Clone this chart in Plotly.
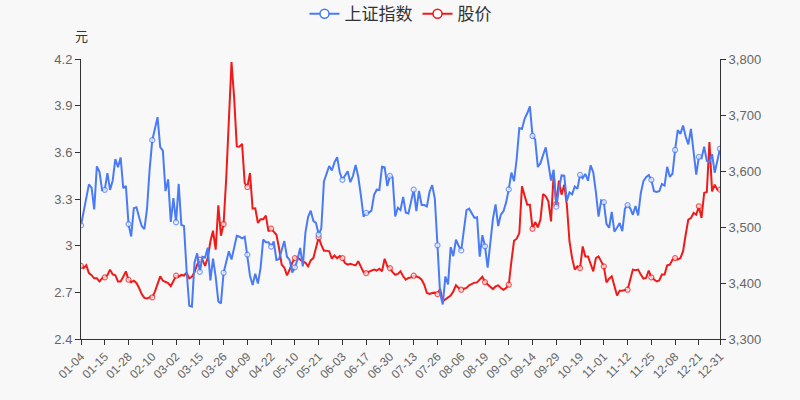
import plotly.graph_objects as go

# Trading days of 2021 (by month -> day numbers)
trade_days = {
    1: [4, 5, 6, 7, 8, 11, 12, 13, 14, 15, 18, 19, 20, 21, 22, 25, 26, 27, 28, 29],
    2: [1, 2, 3, 4, 5, 8, 9, 10, 18, 19, 22, 23, 24, 25, 26],
    3: [1, 2, 3, 4, 5, 8, 9, 10, 11, 12, 15, 16, 17, 18, 19, 22, 23, 24, 25, 26, 29, 30, 31],
    4: [1, 2, 6, 7, 8, 9, 12, 13, 14, 15, 16, 19, 20, 21, 22, 23, 26, 27, 28, 29, 30],
    5: [6, 7, 10, 11, 12, 13, 14, 17, 18, 19, 20, 21, 24, 25, 26, 27, 28, 31],
    6: [1, 2, 3, 4, 7, 8, 9, 10, 11, 15, 16, 17, 18, 21, 22, 23, 24, 25, 28, 29, 30],
    7: [1, 2, 5, 6, 7, 8, 9, 12, 13, 14, 15, 16, 19, 20, 21, 22, 23, 26, 27, 28, 29, 30],
    8: [2, 3, 4, 5, 6, 9, 10, 11, 12, 13, 16, 17, 18, 19, 20, 23, 24, 25, 26, 27, 30, 31],
    9: [1, 2, 3, 6, 7, 8, 9, 10, 13, 14, 15, 16, 17, 22, 23, 24, 27, 28, 29, 30],
    10: [8, 11, 12, 13, 14, 15, 18, 19, 20, 21, 22, 25, 26, 27, 28, 29],
    11: [1, 2, 3, 4, 5, 8, 9, 10, 11, 12, 15, 16, 17, 18, 19, 22, 23, 24, 25, 26, 29, 30],
    12: [1, 2, 3, 6, 7, 8, 9, 10, 13, 14, 15, 16, 17, 20, 21, 22, 23, 24, 27, 28, 29, 30, 31],
}
dates = [f"{m:02d}-{d:02d}" for m in sorted(trade_days) for d in trade_days[m]]

tick_labels = ["01-04", "01-15", "01-28", "02-10", "03-02", "03-15", "03-26", "04-09",
               "04-22", "05-10", "05-21", "06-03", "06-17", "06-30", "07-13", "07-26",
               "08-06", "08-19", "09-01", "09-14", "09-29", "10-19", "11-01", "11-12",
               "11-25", "12-08", "12-21", "12-31"]

index_vals = [
    3502.96, 3528.68, 3550.88, 3576.20, 3570.11, 3531.50, 3608.34, 3598.65, 3565.90, 3566.38,
    3596.22, 3566.28, 3583.09, 3621.26, 3606.75, 3624.24, 3569.43, 3573.34, 3505.18, 3483.07,
    3533.68, 3535.09, 3517.31, 3501.86, 3496.33, 3532.44, 3603.49, 3655.09, 3675.36, 3696.17,
    3642.44, 3636.36, 3564.08, 3585.05, 3509.08,
    3551.40, 3508.59, 3576.90, 3503.49, 3501.99, 3421.41, 3359.29, 3357.74, 3436.83, 3453.08,
    3419.95, 3446.73, 3445.55, 3463.07, 3404.66, 3443.44, 3411.51, 3367.06, 3363.59, 3418.33,
    3435.30, 3456.68, 3441.91,
    3466.33, 3484.39, 3482.59, 3479.63, 3482.48, 3450.68, 3412.95, 3396.47, 3416.55, 3398.99,
    3426.62, 3477.55, 3472.94, 3472.93, 3465.11, 3474.17, 3441.17, 3442.61, 3457.07, 3474.90,
    3446.86,
    3441.28, 3418.87, 3427.99, 3441.85, 3462.75, 3429.54, 3490.38, 3517.62, 3529.01, 3510.96,
    3506.94, 3486.56, 3497.28, 3581.34, 3593.36, 3608.85, 3600.78, 3615.48,
    3624.71, 3597.14, 3584.22, 3591.84, 3599.54, 3580.11, 3591.40, 3610.86, 3589.75, 3556.56,
    3518.33, 3525.10, 3525.60, 3529.18, 3557.41, 3566.65, 3566.22, 3607.56, 3606.37, 3573.18,
    3591.20,
    3588.78, 3518.76, 3534.32, 3530.26, 3553.72, 3525.50, 3524.09, 3547.84, 3566.73, 3528.50,
    3564.59, 3539.30, 3539.12, 3536.79, 3562.97, 3574.73, 3550.40, 3467.44, 3381.18, 3361.59,
    3411.72, 3397.36,
    3464.29, 3447.99, 3477.22, 3466.56, 3458.23, 3494.63, 3529.93, 3532.62, 3524.74, 3516.30,
    3517.34, 3446.98, 3485.29, 3465.55, 3427.33, 3477.13, 3514.47, 3540.38, 3501.66, 3522.16,
    3528.15, 3543.94,
    3567.10, 3597.04, 3581.73, 3621.86, 3676.59, 3675.19, 3693.13, 3703.11, 3715.37, 3662.60,
    3656.22, 3607.09, 3613.97, 3628.49, 3642.22, 3613.07, 3582.83, 3602.22, 3536.29, 3568.17,
    3592.17, 3591.71, 3546.94, 3561.76, 3558.28, 3572.37, 3568.14, 3593.15, 3587.00, 3594.78,
    3582.60, 3609.86, 3597.64, 3562.31, 3518.42, 3547.34,
    3544.48, 3505.63, 3498.54, 3526.87, 3491.57, 3498.63, 3507.00, 3492.46, 3532.79, 3539.10,
    3533.30, 3521.79, 3537.37, 3520.71, 3560.37, 3582.08, 3589.09, 3592.70, 3584.18, 3564.09,
    3562.70, 3563.89,
    3576.89, 3573.84, 3607.43, 3589.31, 3595.09, 3637.57, 3673.04, 3666.35, 3681.08, 3661.53,
    3647.63, 3675.02, 3632.36, 3593.60, 3625.13, 3622.62, 3643.34, 3618.05, 3615.97, 3630.11,
    3597.00, 3619.19, 3639.78,
]

price_vals = [
    2.87, 2.856, 2.875, 2.824, 2.81, 2.79, 2.79, 2.77, 2.79, 2.796,
    2.81, 2.846, 2.815, 2.81, 2.77, 2.77, 2.80, 2.835, 2.781, 2.765,
    2.775, 2.76, 2.728, 2.689, 2.664, 2.66, 2.668, 2.668, 2.705, 2.76,
    2.803, 2.775, 2.765, 2.76, 2.74, 2.775, 2.807, 2.80, 2.812, 2.808,
    2.826, 2.79, 2.80, 2.83, 2.878, 2.91, 2.91, 2.87, 2.92, 3.027,
    3.096, 2.974, 3.259, 3.064, 3.139, 3.435, 3.82, 4.18, 3.95, 3.638,
    3.636, 3.654, 3.403, 3.377, 3.467, 3.238, 3.24, 3.146, 3.17, 3.17,
    3.193, 3.092, 3.109, 3.09, 3.07, 2.985, 2.878, 2.86, 2.809, 2.845,
    2.89, 2.92, 2.925, 2.91, 2.90, 2.89, 2.867, 2.905, 2.92, 2.985,
    3.053, 3.005, 2.968, 2.968, 2.964, 2.916, 2.937, 2.92, 2.933, 2.92,
    2.888, 2.878, 2.884, 2.878, 2.873, 2.90, 2.867, 2.83, 2.824, 2.83,
    2.835, 2.846, 2.84, 2.852, 2.835, 2.916, 2.867, 2.856, 2.83, 2.813,
    2.818, 2.835, 2.803, 2.781, 2.792, 2.796, 2.807, 2.803, 2.796, 2.781,
    2.749, 2.696, 2.689, 2.696, 2.698, 2.689, 2.723, 2.642, 2.653, 2.668,
    2.68, 2.706, 2.745, 2.728, 2.717, 2.723, 2.728, 2.745, 2.753, 2.762,
    2.764, 2.781, 2.80, 2.766, 2.749, 2.732, 2.721, 2.738, 2.745, 2.728,
    2.717, 2.728, 2.749, 2.899, 3.032, 3.045, 3.081, 3.381, 3.328, 3.263,
    3.263, 3.109, 3.152, 3.118, 3.167, 3.332, 3.317, 3.285, 3.156, 3.461,
    3.268, 3.418, 3.328, 3.392, 3.263, 3.027, 2.92, 2.846, 2.867, 2.856,
    2.995, 2.931, 2.931, 2.888, 2.835, 2.92, 2.931, 2.899, 2.867, 2.764,
    2.788, 2.803, 2.738, 2.68, 2.71, 2.71, 2.715, 2.717, 2.781, 2.846,
    2.842, 2.846, 2.814, 2.788, 2.792, 2.84, 2.796, 2.781, 2.77, 2.777,
    2.814, 2.814, 2.873, 2.878, 2.91, 2.92, 2.91, 2.92, 2.963, 3.07,
    3.167, 3.178, 3.21, 3.199, 3.253, 3.178, 3.339, 3.345, 3.666, 3.349,
    3.392, 3.36, 3.36,
]

BLUE = "#4a7bf7"
RED = "#ee1b1b"
n = len(dates)
marker_sizes = [5 if (i % 9 == 0 or i == n - 1) else 0 for i in range(n)]
tick_vals = [dates[i] for i in range(0, n, 9)] + [dates[-1]]

fig = go.Figure()
series = [("上证指数", index_vals, "y2", BLUE), ("股价", price_vals, "y", RED)]
for name, vals, yax, col in series:
    fig.add_trace(go.Scatter(
        x=dates, y=vals, name=name, yaxis=yax, mode="lines+markers", showlegend=False,
        line=dict(color=col, width=2),
        marker=dict(size=marker_sizes, color="white", line=dict(color=col, width=1.2)),
    ))
for name, vals, yax, col in series:
    fig.add_trace(go.Scatter(
        x=[None], y=[None], name=name, yaxis=yax, mode="lines+markers", showlegend=True,
        line=dict(color=col, width=2),
        marker=dict(size=9, color="white", line=dict(color=col, width=1.5)),
    ))

axis_font = dict(family="Liberation Sans, Arial, sans-serif", size=13, color="#666")
fig.update_layout(
    width=800, height=400,
    paper_bgcolor="#f8f8f8", plot_bgcolor="#f8f8f8",
    margin=dict(l=81, r=80, t=59, b=61, autoexpand=False),
    showlegend=True,
    legend=dict(orientation="h", x=0.5, xanchor="center", y=1.16, yanchor="middle",
                yref="paper", font=dict(family="Noto Sans CJK SC", size=17, color="#333"),
                traceorder="normal", bgcolor="rgba(0,0,0,0)", itemwidth=30),
    xaxis=dict(type="category", range=[0, n - 1], tickmode="array",
               tickvals=tick_vals, ticktext=tick_labels, tickangle=-45,
               showgrid=False, zeroline=False, showline=True, linecolor="#333", linewidth=1,
               ticks="outside", ticklen=5, tickcolor="#333",
               tickfont=dict(family="Liberation Sans, Arial, sans-serif", size=12, color="#666")),
    yaxis=dict(range=[2.4, 4.2], dtick=0.3, tick0=2.4, showgrid=False, zeroline=False,
               showline=True, linecolor="#333", linewidth=1, ticks="outside", ticklen=5,
               tickcolor="#333", tickfont=axis_font),
    yaxis2=dict(range=[3300, 3800], dtick=100, overlaying="y", side="right",
                tickformat=",d", showgrid=False, zeroline=False,
                showline=True, linecolor="#333", linewidth=1, ticks="outside", ticklen=5,
                tickcolor="#333", tickfont=axis_font),
    annotations=[dict(text="元", x=0, y=1.0, xref="paper", yref="paper", showarrow=False,
                      xanchor="center", yanchor="bottom", yshift=12,
                      font=dict(family="Noto Sans CJK SC", size=13, color="#333"))],
)

fig.write_html("out.html")
